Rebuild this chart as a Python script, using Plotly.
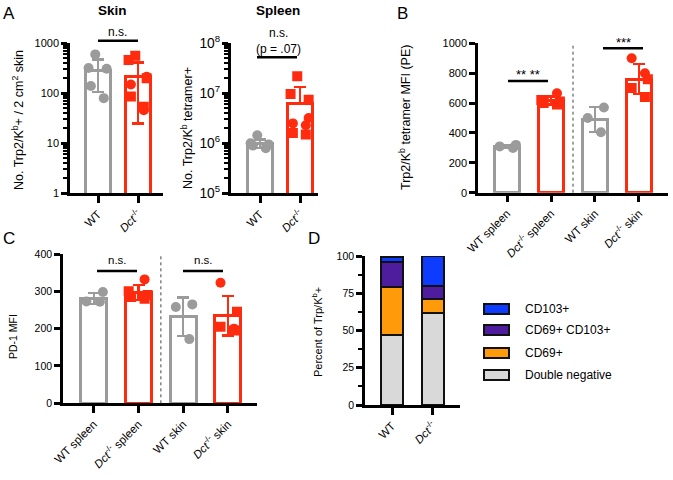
import plotly.graph_objects as go

W, H = 673, 480
GRAY = "#9b9b9b"
RED = "#ff2b0e"
FONT = "Liberation Sans, Arial, Helvetica, sans-serif"
DCT = "<i>Dct</i><sup>-/-</sup>"

# ---------------- data ----------------
# Panel A (skin, log scale)
a_cats = ["WT", DCT]
skin_mean = [290, 220]
skin_sd = [185, 195]
skin_circles = [[600, 320, 310, 140, 80], [215, 150, 46]]
skin_squares = [[], [565, 464, 200, 86, 54]]
# Panel A (spleen, log scale)
spleen_mean = [1.0e6, 6.3e6]
spleen_sd = [0.2e6, 7.0e6]
spleen_circles = [[1.45e6, 1.0e6, 0.95e6, 0.8e6, 0.9e6], [3.2e6, 2.3e6, 2.5e6]]
spleen_squares = [[], [2.2e7, 9.7e6, 7.4e6, 1.5e6, 1.6e6]]

# Panels B and C
bc_cats = ["WT spleen", DCT + " spleen", "WT skin", DCT + " skin"]
b_mean = [308, 617, 490, 760]
b_sd = [10, 28, 83, 100]
b_circles = [[320, 310, 300], [665], [570, 500, 405], [900, 800]]
b_squares = [[], [620, 600, 590, 610], [], [760, 700, 640]]
c_mean = [281, 297, 232, 234]
c_sd = [15, 20, 52, 53]
c_circles = [[298, 272, 273], [332], [265, 258, 172], [323, 200]]
c_squares = [[], [300, 290, 280, 285], [], [245, 205, 195]]
bc_colors = [GRAY, RED, GRAY, RED]

# Panel D (stacked percentages)
d_cats = ["WT", DCT]
d_series = ["Double negative", "CD69+", "CD69+ CD103+", "CD103+"]
d_dn = [47, 62]
d_cd69 = [32, 9]
d_dp = [17, 9]
d_cd103 = [3, 20]
d_colors = ["#d9d9d9", "#ff9a0a", "#4d1d9e", "#0e3cff"]


def px(x):
    return x / W


def py(y):
    return 1 - y / H


fig = go.Figure()


def add_group(xa, ya, cat, mean, sd, circles, squares, color, log=False, bw=0.6, msize=10):
    minus = sd if (not log or mean - sd > 0) else 0
    fig.add_trace(go.Bar(
        x=[cat], y=[mean], width=bw, xaxis=xa, yaxis=ya,
        marker=dict(color="white", line=dict(color=color, width=3)),
        error_y=dict(type="data", array=[sd], arrayminus=[minus], symmetric=False,
                     color=color, thickness=2.5, width=6),
        showlegend=False, hoverinfo="skip"))
    for vals, sym in ((circles, "circle"), (squares, "square")):
        if vals:
            fig.add_trace(go.Box(
                x=[cat] * len(vals), y=vals, xaxis=xa, yaxis=ya,
                boxpoints="all", jitter=0.9, pointpos=0, width=bw,
                fillcolor="rgba(0,0,0,0)", line=dict(width=0, color="rgba(0,0,0,0)"),
                marker=dict(symbol=sym, size=msize, color=color, line=dict(width=0)),
                showlegend=False, hoverinfo="skip"))


for i, cat in enumerate(a_cats):
    col = [GRAY, RED][i]
    add_group("x", "y", cat, skin_mean[i], skin_sd[i], skin_circles[i], skin_squares[i], col, log=True, bw=0.62)
    add_group("x2", "y2", cat, spleen_mean[i], spleen_sd[i], spleen_circles[i], spleen_squares[i], col, log=True, bw=0.62)

for i, cat in enumerate(bc_cats):
    add_group("x3", "y3", cat, b_mean[i], b_sd[i], b_circles[i], b_squares[i], bc_colors[i], bw=0.58)
    add_group("x4", "y4", cat, c_mean[i], c_sd[i], c_circles[i], c_squares[i], bc_colors[i], bw=0.58)

for name, vals, col in zip(d_series, [d_dn, d_cd69, d_dp, d_cd103], d_colors):
    fig.add_trace(go.Bar(x=d_cats, y=vals, name=name, width=0.56, xaxis="x5", yaxis="y5",
                         marker=dict(color=col, line=dict(color="#111111", width=2)),
                         showlegend=False, hoverinfo="skip"))

axc = dict(showline=True, linecolor="black", linewidth=2.5, ticks="outside", tickcolor="black",
           tickwidth=2.5, showgrid=False, zeroline=False, fixedrange=True, automargin=False)
tf11 = dict(size=11, color="black", family=FONT)
tf10 = dict(size=10.5, color="black", family=FONT)
tfx = dict(size=11.5, color="black", family=FONT)


def xax(dom, rng, tf):
    return dict(axc, domain=[px(dom[0]), px(dom[1])], range=rng, type="category",
                tickangle=-45, ticklen=7, tickfont=tf)


def yax(dom, xa, tf, **kw):
    return dict(axc, domain=[py(dom[1]), py(dom[0])], anchor=xa, ticklen=6, tickfont=tf, **kw)


minor_log = dict(ticks="outside", ticklen=4, tickwidth=2, tickcolor="black", dtick="D1")

fig.update_layout(
    template="none",
    width=W, height=H, margin=dict(l=0, r=0, t=0, b=0, pad=0), autosize=False,
    paper_bgcolor="white", plot_bgcolor="white",
    barmode="stack", boxmode="overlay", showlegend=False,
    font=dict(family=FONT, color="black"),
    xaxis=dict(xax((70, 163), [-0.7, 1.625], tfx), anchor="y"),
    yaxis=yax((43.3, 193.3), "x", tf11, type="log", range=[0, 3], dtick=1,
              exponentformat="none", minor=minor_log),
    xaxis2=dict(xax((231, 318), [-0.725, 1.45], tfx), anchor="y2"),
    yaxis2=yax((43.3, 193.3), "x2", tf11, type="log", range=[5, 8], dtick=1,
               exponentformat="power", minor=minor_log),
    xaxis3=dict(xax((478, 668), [-0.66, 3.66], tfx), anchor="y3"),
    yaxis3=yax((43.3, 192.7), "x3", tf11, range=[0, 1000], dtick=200),
    xaxis4=dict(xax((63, 257), [-0.69, 3.65], tfx), anchor="y4"),
    yaxis4=yax((254, 403.3), "x4", tf10, range=[0, 400], dtick=100),
    xaxis5=dict(xax((365, 460), [-0.66, 1.66], tfx), anchor="y5"),
    yaxis5=yax((256, 405), "x5", tf10, range=[0, 100], dtick=25,
               minor=dict(ticks="outside", ticklen=4, tickwidth=2, tickcolor="black", dtick=12.5)),
)

shapes = []
ann = []


def text(x, y, s, size=12, xanchor="center", **kw):
    ann.append(dict(x=px(x), y=py(y), xref="paper", yref="paper", text=s, showarrow=False,
                    xanchor=xanchor, yanchor="middle",
                    font=dict(size=size, color="black", family=FONT), **kw))


def hline(x0, x1, y):
    shapes.append(dict(type="line", xref="paper", yref="paper", x0=px(x0), x1=px(x1),
                       y0=py(y), y1=py(y), line=dict(color="black", width=2.5)))


# dotted separators
for xa, ya in (("x3", "y3"), ("x4", "y4")):
    shapes.append(dict(type="line", xref=xa, yref=ya + " domain", x0=1.5, x1=1.5, y0=0, y1=1,
                       line=dict(color="#444444", width=1, dash="dot")))

# significance
hline(98, 138, 40.7); text(118, 32, "n.s.")
hline(257, 297, 57.3); text(278, 33, "n.s."); text(278, 49, "(p = .07)")
hline(508, 548, 81); text(528, 74, "** **", size=13)
hline(603, 643, 48.3); text(623, 42, "***", size=13)
hline(97, 137, 271); text(117, 260, "n.s.", size=11.5)
hline(183, 223, 271); text(203, 260, "n.s.", size=11.5)

# titles / letters
text(113, 10, "<b>Skin</b>", size=13.5)
text(278, 10, "<b>Spleen</b>", size=13.5)
text(1, 13, "A", size=17, xanchor="left")
text(395, 13, "B", size=17, xanchor="left")
text(1, 238, "C", size=17, xanchor="left")
text(306, 238, "D", size=17, xanchor="left")

# y-axis titles
text(18, 120, "No. Trp2/K<sup>b</sup>+ / 2 cm<sup>2</sup> skin", size=12.5, textangle=-90)
text(187, 128, "No. Trp2/K<sup>b</sup> tetramer+", size=12.5, textangle=-90)
text(405, 118, "Trp2/K<sup>b</sup> tetramer MFI (PE)", size=12.5, textangle=-90)
text(13, 337, "PD-1 MFI", size=10.5, textangle=-90)
text(317, 332, "Percent of Trp/K<sup>b</sup>+", size=11, textangle=-90)

# legend for D (top to bottom: reversed stack order)
rows = [309, 330, 353, 375]
for r, name, col in zip(rows, d_series[::-1], d_colors[::-1]):
    shapes.append(dict(type="rect", xref="paper", yref="paper", x0=px(484), x1=px(509),
                       y0=py(r + 5), y1=py(r - 5), fillcolor=col,
                       line=dict(color="#111111", width=2)))
    text(523, r, name, size=12, xanchor="left")

fig.update_layout(shapes=shapes, annotations=ann)
fig.write_html("out.html", include_plotlyjs=True, config={"displayModeBar": False},
               post_script="document.body.style.margin='0';document.body.style.overflow='hidden';")
